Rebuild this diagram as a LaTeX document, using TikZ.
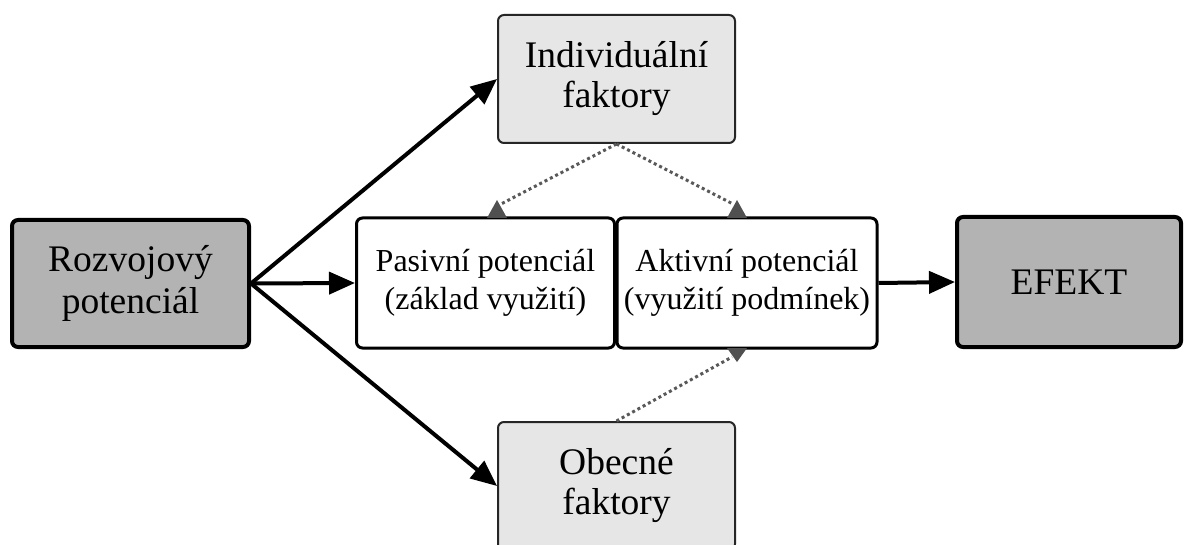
\documentclass[tikz,border=0pt]{standalone}
\usepackage{fontspec}
\setmainfont{Liberation Serif}
\usetikzlibrary{arrows.meta}
\definecolor{darkbox}{HTML}{B3B3B3}
\definecolor{lightbox}{HTML}{E6E6E6}
\definecolor{dotcol}{HTML}{595959}
\tikzset{
  bigbox/.style={draw=black, fill=darkbox, line width=4pt, rounded corners=6pt, align=center,
    font=\fontsize{37.5}{42}\selectfont, inner sep=0pt},
  factorbox/.style={draw=black!85, fill=lightbox, line width=2pt, rounded corners=6pt, align=center,
    font=\fontsize{37.5}{40}\selectfont, inner sep=0pt, minimum width=237pt, minimum height=128pt},
  potbox/.style={draw=black, fill=white, line width=3pt, rounded corners=6pt, align=center,
    font=\fontsize{32}{37.5}\selectfont, inner sep=0pt, minimum height=130pt},
  mainarrow/.style={line width=4pt, -{Triangle[length=26pt,width=22pt]}},
  dotline/.style={dotcol, line width=3pt, dash pattern=on 3pt off 3pt},
  tri/.style={fill=dotcol!90!black}
}
\begin{document}
\begin{tikzpicture}[x=1pt,y=-1pt]
\useasboundingbox[fill=white] (0,0) rectangle (1186,545);
% boxes
\node[bigbox, minimum width=237pt, minimum height=127pt] (roz) at (130.5,283.5) {Rozvojový\\potenciál};
\node[factorbox] (ind) at (616.5,79) {Individuální\\faktory};
\node[factorbox] (obe) at (616.5,486) {Obecné\\faktory};
\node[potbox, minimum width=258pt] (pas) at (485.5,283) {Pasivní potenciál\\(základ využití)};
\node[potbox, minimum width=260pt] (akt) at (747,283) {Aktivní potenciál\\(využití podmínek)};
\node[bigbox, minimum width=224pt, minimum height=130pt] (efe) at (1069,282) {EFEKT};
% main arrows
\draw[mainarrow] (roz.east) -- (ind.west);
\draw[mainarrow] (roz.east) -- (pas.west);
\draw[mainarrow] (roz.east) -- (obe.west);
\draw[mainarrow] (akt.east) -- (efe.west);
% dotted influence lines
\coordinate (t1) at (497,200);
\coordinate (t2) at (737,200);
\coordinate (t3) at (737,362);
\draw[dotline] (ind.south) -- ([shift={(4,4)}]t1);
\draw[dotline] (ind.south) -- ([shift={(-4,4)}]t2);
\draw[dotline] (obe.north) -- ([shift={(-5,-5)}]t3);
\fill[tri] (t1) -- ++(10,18) -- ++(-20,0) -- cycle;
\fill[tri] (t2) -- ++(10,18) -- ++(-20,0) -- cycle;
\fill[tri] (t3) -- ++(10,-14) -- ++(-20,0) -- cycle;
\end{tikzpicture}
\end{document}
